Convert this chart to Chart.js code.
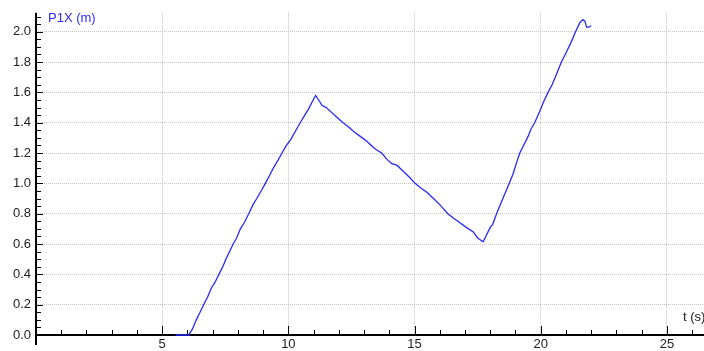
<!DOCTYPE html>
<html>
<head>
<meta charset="utf-8">
<script src="https://cdn.jsdelivr.net/npm/chart.js@4.4.0/dist/chart.umd.min.js"></script>
<style>
  html, body { margin: 0; padding: 0; background: #fff; }
  #wrap { position: relative; width: 704px; height: 351px; }
</style>
</head>
<body>
<div id="wrap"><canvas id="line-chart" width="704" height="351"></canvas></div>
<script>
// time (s) and position P1X (m)
var times = [5.53, 6.05, 6.2, 6.35, 6.5, 6.64, 6.8, 6.95, 7.1, 7.25, 7.4, 7.55, 7.7, 7.81, 7.95, 8.1, 8.25, 8.43, 8.6, 8.75, 8.92, 9.09, 9.25, 9.4, 9.58, 9.75, 9.92, 10.1, 10.3, 10.47, 10.65, 10.8, 10.95, 11.08,
    11.2, 11.33, 11.5, 11.7, 11.9, 12.17, 12.4, 12.6, 12.85, 13.1, 13.35, 13.5, 13.7, 13.9, 14.1, 14.3, 14.55, 14.8, 15.02, 15.25, 15.5, 15.75, 16.0, 16.32, 16.55, 16.8, 17.05, 17.33, 17.5, 17.72,
    17.85, 18.0, 18.1, 18.25, 18.4, 18.55, 18.75, 18.9, 19.05, 19.17, 19.35, 19.5, 19.62, 19.76, 19.95, 20.12, 20.29, 20.45, 20.6, 20.82, 21.0, 21.2, 21.38, 21.55, 21.67, 21.75, 21.82, 21.9, 22.0];
var positions = [0, 0, 0.04, 0.1, 0.15, 0.2, 0.25, 0.31, 0.35, 0.4, 0.45, 0.51, 0.56, 0.6, 0.64, 0.7, 0.74, 0.8, 0.86, 0.9, 0.95, 1.0, 1.05, 1.1, 1.15, 1.2, 1.25, 1.29, 1.35, 1.4, 1.45, 1.49, 1.54, 1.58,
    1.55, 1.515, 1.5, 1.47, 1.44, 1.4, 1.37, 1.34, 1.31, 1.28, 1.24, 1.22, 1.2, 1.16, 1.13, 1.12, 1.08, 1.04, 1.0, 0.97, 0.94, 0.9, 0.86, 0.8, 0.77, 0.74, 0.71, 0.68, 0.64, 0.615,
    0.66, 0.71, 0.73, 0.8, 0.86, 0.92, 1.0, 1.06, 1.14, 1.2, 1.26, 1.31, 1.36, 1.4, 1.47, 1.54, 1.6, 1.65, 1.71, 1.8, 1.86, 1.93, 2.0, 2.06, 2.08, 2.07, 2.03, 2.03, 2.04];

var xTicks = [5, 10, 15, 20, 25];
var yTicks = [0.0, 0.2, 0.4, 0.6, 0.8, 1.0, 1.2, 1.4, 1.6, 1.8, 2.0];
var yLabel = 'P1X (m)';
var xLabel = 't (s)';

var points = [];
for (var i = 0; i < times.length; i++) {
    points.push({ x: times[i], y: positions[i] });
}

// inward tick marks, axis lines and axis titles (drawn under the data line)
var axisPlugin = {
    id: 'axisDecor',
    beforeDatasetsDraw: function (chart) {
        var ctx = chart.ctx;
        var xs = chart.scales.x, ys = chart.scales.y;
        var left = chart.chartArea.left, bottom = chart.chartArea.bottom, top = chart.chartArea.top;
        ctx.save();
        ctx.strokeStyle = '#000';
        ctx.lineWidth = 1;
        ctx.beginPath();
        for (var t = 1; t <= 26; t++) {
            var px = Math.round(xs.getPixelForValue(t)) + 0.5;
            var len = (t % 5 === 0) ? 9 : 5;
            ctx.moveTo(px, bottom);
            ctx.lineTo(px, bottom - len);
        }
        for (var k = 1; k <= 42; k++) {
            var v = k * 0.05;
            if (v > ys.max) break;
            var py = Math.round(ys.getPixelForValue(v)) + 0.5;
            var l2 = (k % 4 === 0) ? 7 : 5;
            ctx.moveTo(left, py);
            ctx.lineTo(left + l2, py);
        }
        ctx.stroke();
        ctx.lineWidth = 2;
        ctx.beginPath();
        ctx.moveTo(left, top);
        ctx.lineTo(left, bottom + 10);
        ctx.moveTo(left - 1, bottom);
        ctx.lineTo(chart.chartArea.right, bottom);
        ctx.stroke();

        ctx.font = '13px "Liberation Sans", Arial, sans-serif';
        ctx.textBaseline = 'middle';
        ctx.fillStyle = '#2a2aff';
        ctx.textAlign = 'left';
        ctx.fillText(yLabel, 48, 18);
        ctx.fillStyle = '#222';
        ctx.fillText(xLabel, 683, 317);
        ctx.restore();
    }
};

var lineConfig = {
    type: 'line',
    data: {
        datasets: [{
            data: points,
            borderColor: 'rgb(40,40,255)',
            borderWidth: 1.3,
            pointRadius: 0,
            tension: 0,
            fill: false,
            clip: 4
        }]
    },
    options: {
        responsive: false,
        animation: false,
        layout: { padding: { top: 10, right: 0, left: 0, bottom: 0 } },
        plugins: {
            legend: { display: false },
            tooltip: { enabled: false }
        },
        scales: {
            x: {
                type: 'linear',
                min: 0,
                max: 26.47,
                afterFit: function (scale) { scale.height = 16; },
                afterBuildTicks: function (scale) {
                    scale.ticks = xTicks.map(function (v) { return { value: v }; });
                },
                ticks: {
                    padding: 2,
                    color: '#222',
                    font: { family: '"Liberation Sans", Arial, sans-serif', size: 13 },
                    maxRotation: 0,
                    callback: function (v) { return String(v); }
                },
                grid: { color: '#c4c4c4', lineWidth: 1, drawTicks: false },
                border: { display: false, dash: [1, 1] }
            },
            y: {
                type: 'linear',
                min: 0,
                max: 2.125,
                afterFit: function (scale) { scale.width = 36; },
                afterBuildTicks: function (scale) {
                    scale.ticks = yTicks.map(function (v) { return { value: v }; });
                },
                ticks: {
                    padding: 5,
                    color: '#222',
                    font: { family: '"Liberation Sans", Arial, sans-serif', size: 13 },
                    callback: function (v) { return Number(v).toFixed(1); }
                },
                grid: { color: '#c4c4c4', lineWidth: 1, drawTicks: false },
                border: { display: false, dash: [1, 1] }
            }
        }
    },
    plugins: [axisPlugin]
};

var lineContext = document.getElementById('line-chart').getContext('2d');
window.myLine = new Chart(lineContext, lineConfig);
</script>
</body>
</html>
